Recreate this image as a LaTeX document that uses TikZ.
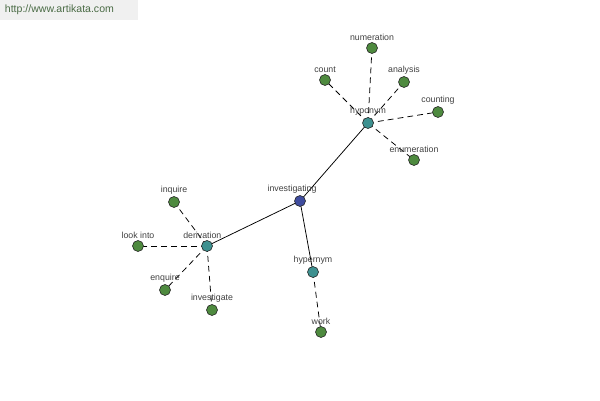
\documentclass[tikz,border=0pt]{standalone}
\usepackage{fontspec}
\setmainfont{Liberation Sans}
\usetikzlibrary{positioning, backgrounds}

\definecolor{leafgreen}{HTML}{4E8A3F}
\definecolor{hubteal}{HTML}{3E9190}
\definecolor{rootblue}{HTML}{3F4C9E}
\definecolor{sitegreen}{HTML}{4A6B45}

\begin{document}
\begin{tikzpicture}[
  x=0.03cm, y=-0.03cm,
  label distance=1pt,
  word/.style={circle, draw=black!85, line width=0.5pt, minimum size=0.33cm, inner sep=0pt, fill=leafgreen},
  hub/.style={word, fill=hubteal},
  root/.style={word, fill=rootblue},
  every label/.style={font=\fontsize{7.5}{8}\selectfont, text=black!75, inner sep=0.5pt},
  rel/.style={black, line width=0.65pt},
  syn/.style={rel, dash pattern=on 5pt off 3.5pt},
  header/.style={anchor=north west, fill=black!6, text=sitegreen, font=\fontsize{9}{10}\selectfont, minimum height=0.6cm, text width=3.86cm, inner xsep=4pt, align=left}
]
\useasboundingbox (0,0) rectangle (600,400);

% Site banner
\node[header] (site) at (0,0) {http://www.artikata.com};

% Centre and relation hubs
\node[root, label={[xshift=-6.8pt]above:investigating}] (investigating) at (300,201) {};
\node[hub, label=above:hyponym] (hyponym) at (368,123) {};
\node[hub, label={[xshift=-4pt]above:derivation}] (derivation) at (207,246) {};
\node[hub, label=above:hypernym] (hypernym) at (313,272) {};

% Leaves of hyponym
\node[word, label=above:numeration] (numeration) at (372,48) {};
\node[word, label=above:count] (count) at (325,80) {};
\node[word, label=above:analysis] (analysis) at (404,82) {};
\node[word, label=above:counting] (counting) at (438,112) {};
\node[word, label=above:enumeration] (enumeration) at (414,160) {};

% Leaves of derivation
\node[word, label=above:inquire] (inquire) at (174,202) {};
\node[word, label=above:look into] (lookinto) at (138,246) {};
\node[word, label=above:enquire] (enquire) at (165,290) {};
\node[word, label=above:investigate] (investigate) at (212,310) {};

% Leaf of hypernym
\node[word, label=above:work] (work) at (321,332) {};

% Links (under the dots)
\begin{scope}[on background layer]
  \draw[rel] (investigating.center) -- (hyponym.center);
  \draw[rel] (investigating.center) -- (derivation.center);
  \draw[rel] (investigating.center) -- (hypernym.center);
  \foreach \leaf in {numeration, count, analysis, counting, enumeration}
    \draw[syn] (hyponym.center) -- (\leaf.center);
  \foreach \leaf in {inquire, lookinto, enquire, investigate}
    \draw[syn] (derivation.center) -- (\leaf.center);
  \draw[syn] (hypernym.center) -- (work.center);
\end{scope}

\end{tikzpicture}
\end{document}
